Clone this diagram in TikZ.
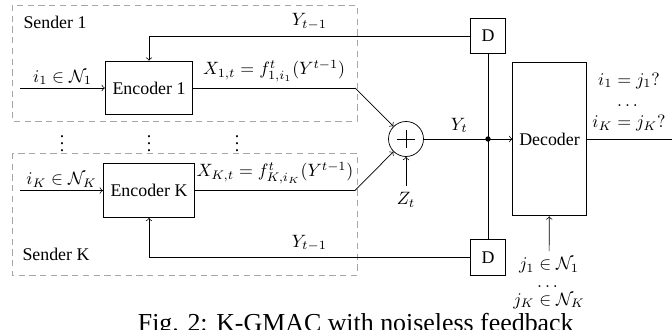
\documentclass[tikz,border=0pt]{standalone}
\usepackage{amsmath,amssymb}
\usepackage{fontspec}
\setmainfont{Liberation Serif}
\usetikzlibrary{positioning,calc}

\tikzset{
  block/.style={draw, line width=0.6pt, inner xsep=4pt, minimum height=30pt},
  delay/.style={draw, line width=0.6pt, minimum size=20pt, inner sep=0pt},
  sender/.style={draw=gray!70, dash pattern=on 3.5pt off 2.5pt},
  adder/.style={circle, draw, minimum size=19.6pt, inner sep=0pt}
}

\begin{document}
\begin{tikzpicture}[x=0.56pt, y=-0.56pt]
  \useasboundingbox (0,0) rectangle (672,329);

  % Sender regions
  \draw[sender] (12,5) rectangle (357,121);
  \draw[sender] (12,153) rectangle (357,275);
  \node (s1) at (55,22) {Sender 1};
  \node (sK) at (56,254) {Sender K};

  % Encoders
  \node[block] (enc1) at (149,88) {Encoder 1};
  \node[block] (encK) at (149,190.5) {Encoder K};
  \node (v1) at (62,138) {$\vdots$};
  \node (v2) at (149,138) {$\vdots$};
  \node (v3) at (237,138) {$\vdots$};

  % Delay blocks and adder
  \node[delay] (d1) at (488,36) {D};
  \node[delay] (d2) at (488,257.5) {D};
  \node[adder] (sum) at (406,139) {};
  \draw (sum.center) ++(-9,0) -- ++(18,0);
  \draw (sum.center) ++(0,-9) -- ++(0,18);
  \node (z) at (406,200) {$Z_t$};

  % Decoder
  \node[block, minimum width=41pt, minimum height=86pt, inner sep=0pt] (dec) at (549.5,139) {Decoder};

  % Inputs to the encoders
  \coordinate (in1) at (20,88);
  \coordinate (inK) at (20,190.5);
  \draw[->] (in1) -- node[above, inner sep=1.5pt] {$i_1\in\mathcal{N}_1$} (enc1);
  \draw[->] (inK) -- node[above, inner sep=1.5pt] {$i_K\in\mathcal{N}_K$} (encK);

  % Channel inputs
  \coordinate (k1) at (355,88);
  \coordinate (kK) at (355,190.5);
  \draw (enc1) -- node[above] {$X_{1,t}=f^t_{1,i_1}(Y^{t-1})$} (k1);
  \draw[->] (k1) -- (sum);
  \draw (encK) -- node[above] {$X_{K,t}=f^t_{K,i_K}(Y^{t-1})$} (kK);
  \draw[->] (kK) -- (sum);
  \draw[->] (z) -- (sum);

  % Channel output and feedback
  \coordinate (jn) at (d1 |- sum);
  \draw[->] (sum) -- node[above, pos=0.4] {$Y_t$} (dec);
  \fill (jn) circle (1.5pt);
  \draw (d1) -- (d2);
  \draw[->] (d1.west) -| node[pos=0.25, above] {$Y_{t-1}$} (enc1.north);
  \draw[->] (d2.west) -| node[pos=0.25, above] {$Y_{t-1}$} (encK.south);

  % Decoder output
  \coordinate (out) at (672,139);
  \draw (dec.east) -- (out);
  \node[align=center] (est) at (629,102) {$i_1=j_1?$\\$\dots$\\$i_K=j_K?$};
  \node[align=center] (jin) at (549,283) {$j_1\in\mathcal{N}_1$\\[-2pt]$\dots$\\[-2pt]$j_K\in\mathcal{N}_K$};
  \draw[->] (jin) -- (dec);

  % Caption
  \node[font=\fontsize{14.5}{17}\selectfont, anchor=base east] (cap) at (580,331) {Fig. 2: K-GMAC with noiseless feedback};
\end{tikzpicture}
\end{document}
